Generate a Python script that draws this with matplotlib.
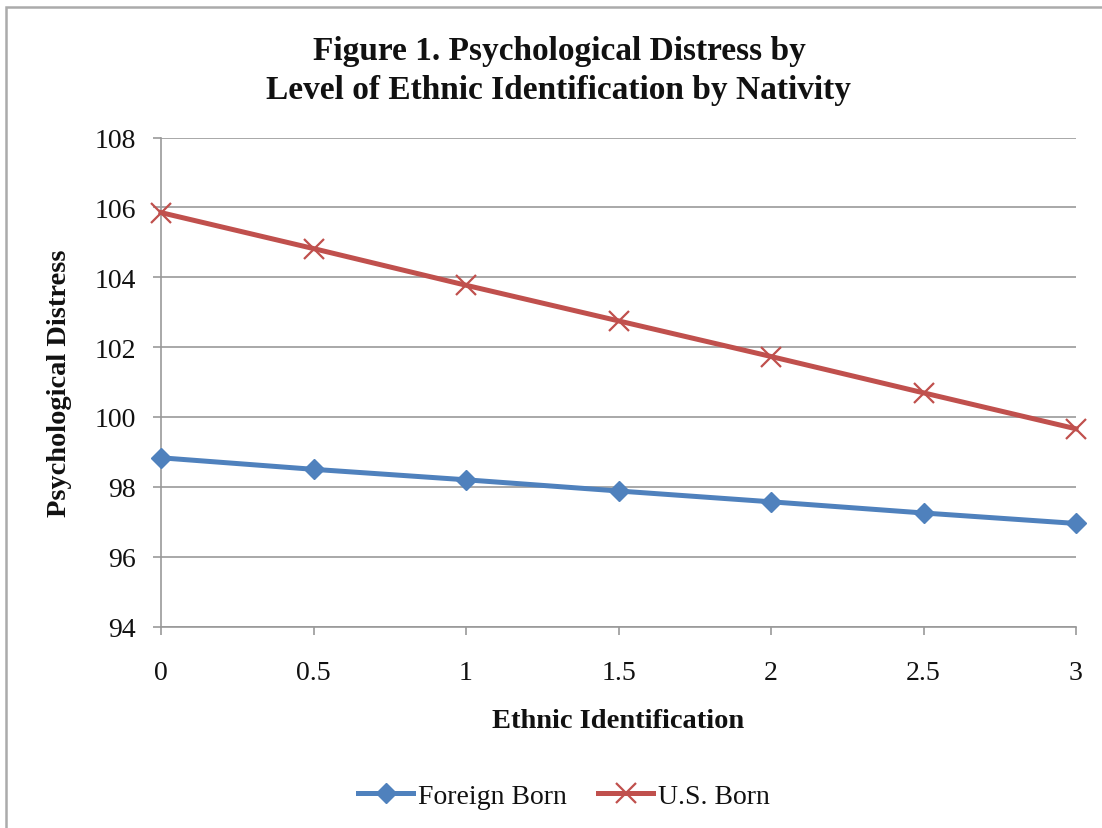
import matplotlib
matplotlib.use("Agg")
import matplotlib.pyplot as plt
from matplotlib.patches import Rectangle

# Data
ethnic_identification = [0, 0.5, 1, 1.5, 2, 2.5, 3]
foreign_born = [98.83, 98.50, 98.20, 97.88, 97.57, 97.25, 96.95]
us_born = [105.85, 104.82, 103.77, 102.75, 101.73, 100.69, 99.66]
y_ticks = [94, 96, 98, 100, 102, 104, 106, 108]
x_ticks = [0, 0.5, 1, 1.5, 2, 2.5, 3]
x_tick_labels = ["0", "0.5", "1", "1.5", "2", "2.5", "3"]

plt.rcParams["font.family"] = ["Liberation Serif", "DejaVu Serif"]

W, H = 1102, 829
fig = plt.figure(figsize=(W / 100, H / 100), dpi=100)
fig.patch.set_facecolor("white")

# Chart-area frame (only top and left edges fall inside the canvas)
fig.patches.append(Rectangle((6 / W, -0.1), 1.2, (H - 8) / H + 0.1,
                             transform=fig.transFigure, fill=False,
                             edgecolor="#ABABAB", linewidth=1.8))

ax = fig.add_axes([161 / W, (H - 627.5) / H, (1076 - 161) / W, (627.5 - 138.5) / H])

blue = "#4F81BD"
red = "#C0504D"
grid = "#999999"
text_color = "#111111"

ax.plot(ethnic_identification, foreign_born, color=blue, linewidth=3.6,
        marker="D", markersize=10, markerfacecolor=blue, markeredgecolor=blue,
        label="Foreign Born", clip_on=False, zorder=3)
ax.plot(ethnic_identification, us_born, color=red, linewidth=3.6,
        marker="x", markersize=14, markeredgewidth=1.6, markeredgecolor=red,
        label="U.S. Born", clip_on=False, zorder=4)

ax.set_xlim(0, 3)
ax.set_ylim(94, 108)
ax.set_yticks(y_ticks)
ax.set_xticks(x_ticks)
ax.set_xticklabels(x_tick_labels)

ax.grid(axis="y", color=grid, linewidth=1.2)
ax.set_axisbelow(True)
for side in ("top", "right"):
    ax.spines[side].set_visible(False)
for side in ("left", "bottom"):
    ax.spines[side].set_color(grid)
    ax.spines[side].set_linewidth(1.2)

ax.tick_params(axis="both", colors=grid, width=1.2, length=6, labelsize=20,
               labelcolor=text_color)
ax.tick_params(axis="x", pad=18)
ax.tick_params(axis="y", pad=12)

ax.set_ylabel("Psychological Distress", fontsize=20.5, fontweight="bold",
              labelpad=16, color=text_color)
ax.set_xlabel("Ethnic Identification", fontsize=20.5, fontweight="bold",
              labelpad=17, color=text_color)

fig.text(559 / W, (H - 71) / H,
         "Figure 1. Psychological Distress by\nLevel of Ethnic Identification by Nativity",
         ha="center", va="center", fontsize=24, fontweight="bold",
         linespacing=1.3, color=text_color)

fig.legend(loc="center", bbox_to_anchor=(564 / W, (H - 797) / H), ncol=2,
           frameon=False, fontsize=20, handlelength=1.95, handletextpad=0.18,
           columnspacing=1.15, labelcolor=text_color)

fig.savefig("out.png", dpi=100, facecolor="white")
